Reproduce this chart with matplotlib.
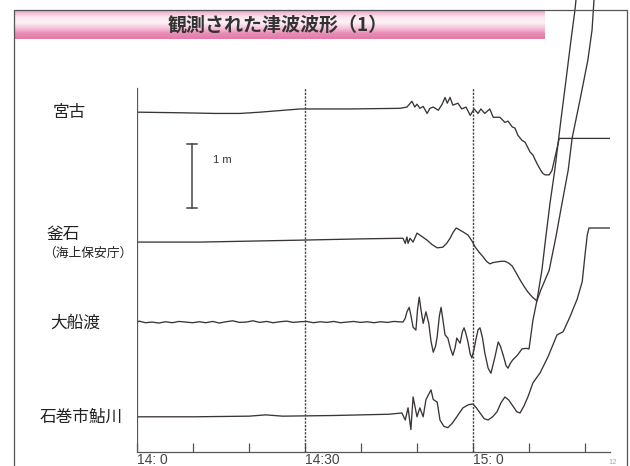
import matplotlib
matplotlib.use("Agg")
import matplotlib.pyplot as plt
import numpy as np
from matplotlib.patches import Rectangle
from matplotlib.colors import LinearSegmentedColormap

# time: minutes after 14:00, level: metres relative to the level at 14:00
title = "観測された津波波形（1）"
time_labels = ["14: 0", "14:30", "15: 0"]
time_major = [0, 30, 60]
time_minor = [10, 20, 40, 50, 70, 80]

stations = ["宮古", "釜石", "大船渡", "石巻市鮎川"]
# baseline of each trace, metres above the time axis
offsets = [5.31, 3.28, 2.03, 0.55]

miyako_t = [0, 8, 14, 18.4, 22, 29.1, 38, 47, 48.2, 49.1, 49.6, 50.0, 50.5,
            51.1, 51.8, 52.3, 52.9, 53.8, 54.5, 55.0, 55.4, 55.9, 56.4, 57.3,
            58.0, 58.75, 59.5, 60.2, 60.9, 61.4, 62.1, 63.0, 63.6, 64.8, 65.7,
            66.25, 67.0, 67.5, 68.0, 68.75, 69.3, 70.2, 70.7, 71.4, 72.1,
            72.5, 72.9, 73.6, 74.1, 74.6, 75.4, 84.5]
miyako_h = [0, -0.01, -0.02, -0.02, 0.0, 0.05, 0.05, 0.06, 0.08, 0.17, 0.08,
            0.125, 0.06, 0.09, -0.02, 0.06, 0.08, 0.03, 0.125, 0.23, 0.14,
            0.23, 0.11, 0.14, 0.05, 0.08, -0.05, 0.05, -0.02, 0.05, -0.02,
            0.05, -0.08, -0.08, -0.16, -0.14, -0.23, -0.25, -0.36, -0.44,
            -0.47, -0.625, -0.67, -0.80, -0.91, -0.96, -0.98, -0.98, -0.91,
            -0.72, -0.41, -0.41]

kamaishi_t = [0, 11.25, 29.1, 40, 47.5, 47.9, 48.2, 48.4, 48.75, 49.3, 50.0,
              50.5, 51.8, 52.7, 53.6, 54.6, 55.3, 55.9, 56.5, 57.0, 57.6,
              58.2, 59.1, 59.8, 60.4, 61.1, 61.8, 62.4, 63.0, 63.6, 64.3,
              65.0, 65.7, 66.4, 67.0, 67.7, 68.4, 69.1, 69.8, 70.6, 71.4,
              72.1, 73.6, 74.8, 75.9, 77.0, 77.7, 79.1, 80.5, 81.25, 81.6,
              82.1]
kamaishi_h = [0, 0.0, 0.03, 0.05, 0.06, -0.02, 0.08, -0.02, 0.06, 0.0, 0.14,
              0.11, 0.03, -0.04, -0.09, -0.08, -0.02, 0.06, 0.16, 0.22, 0.19,
              0.16, 0.11, 0.02, -0.08, -0.16, -0.23, -0.30, -0.34, -0.32,
              -0.31, -0.30, -0.30, -0.33, -0.375, -0.48, -0.59, -0.69, -0.78,
              -0.86, -0.92, -0.75, -0.44, 0.08, 0.61, 1.125, 1.625, 2.22,
              2.84, 3.31, 3.78, 4.09]

ofunato_t = [0, 0.4, 1.5, 2.7, 3.9, 5.1, 6.3, 7.5, 8.7, 9.9, 11.1, 12.3,
             13.5, 14.7, 15.9, 17.1, 18.3, 19.5, 20.7, 21.9, 23.1, 24.3,
             25.5, 26.7, 27.9, 29.1, 30.3, 31.5, 32.7, 33.9, 35.1, 36.3,
             37.5, 38.7, 39.9, 41.1, 42.3, 43.5, 44.7, 45.9, 47.5, 47.9,
             48.2, 48.6, 48.9, 49.3, 49.8, 50.1, 50.4, 50.7, 51.1, 51.6,
             52.1, 52.5, 52.9, 53.3, 53.6, 54.0, 54.3, 54.6, 55.0, 55.5,
             56.0, 56.4, 56.8, 57.1, 57.7, 58.1, 58.4, 58.7, 59.1, 59.5,
             59.8, 60.2, 60.5, 60.9, 61.25, 61.7, 62.1, 62.7, 63.2, 63.9,
             64.5, 64.9, 65.4, 65.9, 66.25, 66.7, 67.1, 67.9, 68.75, 69.5,
             70.0, 70.7, 71.4, 72.3, 73.0, 73.75, 74.6, 75.7, 76.6, 77.5,
             78.2, 78.75]
ofunato_h = [0, 0.015, -0.01, 0.0, -0.015, 0.005, -0.01, 0.01, 0.0, -0.01,
             0.005, -0.01, 0.01, -0.015, 0.005, 0.02, -0.005, 0.0, 0.02,
             -0.005, 0.01, -0.01, 0.005, 0.015, -0.005, 0.005, 0.01, -0.01,
             0.005, -0.005, 0.01, -0.01, 0.0, 0.01, -0.005, 0.005, -0.01,
             0.005, -0.005, 0.01, 0.0, 0.06, 0.16, 0.23, 0.11, -0.08, -0.125,
             0.2, 0.39, 0.2, -0.02, 0.16, -0.02, -0.3, -0.47, -0.38, -0.23,
             0.1, 0.23, 0.05, -0.2, -0.25, -0.42, -0.52, -0.4, -0.25, -0.33,
             -0.15, -0.09, -0.17, -0.31, -0.5, -0.56, -0.42, -0.28, -0.12,
             -0.09, -0.25, -0.48, -0.72, -0.80, -0.55, -0.31, -0.38, -0.52,
             -0.68, -0.72, -0.64, -0.59, -0.52, -0.42, -0.41, -0.42, 0.03,
             0.33, 0.81, 1.33, 1.86, 2.375, 3.16, 3.78, 4.41, 4.875, 5.34]

ayukawa_t = [0, 10, 20, 23, 26, 35, 45, 47.3, 47.9, 48.4, 48.9, 49.3, 50.0,
             50.5, 51.1, 51.6, 52.5, 52.9, 53.6, 54.1, 54.8, 55.5, 56.3,
             57.1, 58.2, 59.2, 60.0, 60.6, 61.25, 62.0, 62.7, 63.5, 64.3,
             65.0, 65.7, 66.4, 67.1, 67.8, 68.4, 69.1, 69.8, 70.7, 72.0,
             73.4, 75.0, 76.1, 77.3, 78.6, 79.5, 80.0, 80.4, 80.7, 84.5]
ayukawa_h = [0, 0.0, 0.01, 0.03, 0.01, 0.02, 0.04, 0.06, -0.05, 0.14, -0.2,
             0.31, 0.0, 0.14, 0.0, 0.27, 0.42, 0.27, 0.23, -0.05, -0.15,
             -0.17, -0.1, 0.0, 0.14, 0.19, 0.2, 0.14, 0.06, -0.03, -0.05,
             0.0, 0.08, 0.22, 0.31, 0.26, 0.17, 0.08, 0.06, 0.17, 0.31, 0.53,
             0.69, 0.94, 1.28, 1.33, 1.56, 1.84, 2.11, 2.53, 2.84, 2.95,
             2.95]

series = [(miyako_t, miyako_h), (kamaishi_t, kamaishi_h),
          (ofunato_t, ofunato_h), (ayukawa_t, ayukawa_h)]

W, H = 630, 466
fig = plt.figure(figsize=(W / 100, H / 100), dpi=100)
fig.patch.set_facecolor("white")


def fx(px):
    return px / W


def fy(py):
    return 1 - py / H


ink = "#3b3434"
grey = "#555555"

# main plot: 5.6 px per minute, 64 px per metre
ax = fig.add_axes([fx(137), fy(452), fx(610) - fx(137), fy(0) - fy(452)])
ax.set_xlim(0, 84.46)
ax.set_ylim(0, 452 / 64)

for (t, h), off in zip(series, offsets):
    ax.plot(t, np.array(h) + off, color=ink, lw=0.95,
            solid_joinstyle="round")

top_frac = (452 - 88) / 452
ax.axvline(0, ymax=top_frac, color=grey, lw=0.9)
for m in [30, 60]:
    ax.axvline(m, ymax=top_frac, color="#444444", lw=1.0,
               linestyle=(0, (1.6, 1.0)))

# 1 m scale bar
bar_x, bar_y0 = 9.8, 3.81
ax.plot([bar_x, bar_x], [bar_y0, bar_y0 + 1], color="#444444", lw=1.1)
ax.plot([bar_x - 0.9, bar_x + 0.9], [bar_y0, bar_y0], color="#444444", lw=1.1)
ax.plot([bar_x - 0.9, bar_x + 0.9], [bar_y0 + 1, bar_y0 + 1],
        color="#444444", lw=1.1)
ax.text(13.6, 4.56, "1 m", fontsize=8, family="Liberation Sans",
        color="#333333", va="center", ha="left")

for s in ["top", "right", "left"]:
    ax.spines[s].set_visible(False)
ax.spines["bottom"].set_color(grey)
ax.spines["bottom"].set_linewidth(0.9)
ax.set_yticks([])
ax.set_xticks(time_major, time_labels)
ax.set_xticks(time_minor, minor=True)
ax.tick_params(axis="x", which="both", direction="in", length=6.5,
               width=0.9, color=grey, pad=1, labelsize=10,
               labelcolor="#444444")
for lab in ax.get_xticklabels():
    lab.set_ha("left")
    lab.set_family("Liberation Sans")
ax.patch.set_alpha(0)

# station names
jp = ["Noto Sans CJK JP", "DejaVu Sans"]
label_pos = [(53, 113), (47, 235), (50, 323), (40, 417)]
for name, (px, py) in zip(stations, label_pos):
    fig.text(fx(px), fy(py), name, family=jp, fontsize=12, color="#222222",
             va="center", ha="left")
fig.text(fx(43), fy(253), "（海上保安庁）", family=jp, fontsize=9.2,
         color="#222222", va="center", ha="left")

# pink title bar
bar = fig.add_axes([fx(14), fy(39), fx(545) - fx(14), fy(11) - fy(39)])
pink = LinearSegmentedColormap.from_list(
    "pink", ["#efa9c8", "#fbe4ee", "#fdf2f6", "#f6c8dc", "#e98db6", "#e27aa9"])
bar.imshow(np.linspace(0, 1, 64).reshape(-1, 1), aspect="auto", cmap=pink,
           extent=[0, 1, 0, 1])
bar.axis("off")
fig.text(fx(278), fy(25), title, family=jp, fontsize=13.7,
         fontweight="bold", color="#333333", ha="center", va="center")

# page frame and page number
fig.patches.append(Rectangle((fx(14), -0.05), fx(627) - fx(14),
                             fy(10) + 0.05, fill=False, edgecolor=grey,
                             lw=0.9, transform=fig.transFigure))
fig.text(fx(608), fy(462), "12", fontsize=5.5, color="#d09a9a",
         family="Liberation Sans", va="center", ha="left")

fig.savefig("out.png", dpi=100)
